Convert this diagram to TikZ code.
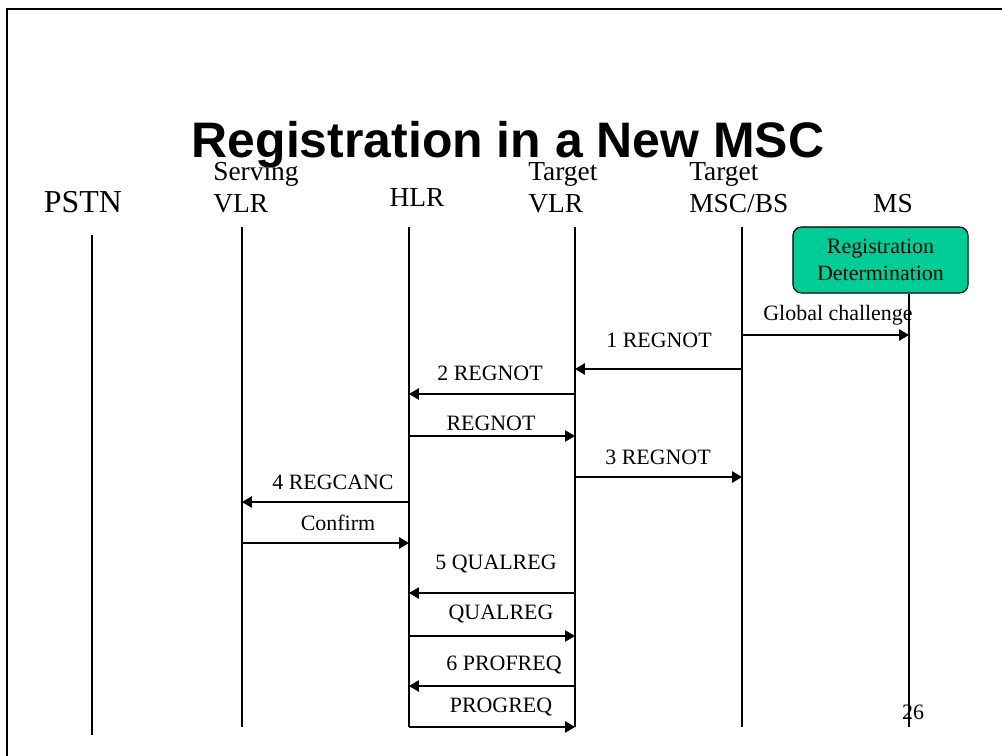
\documentclass[tikz,border=0pt]{standalone}
\usepackage{fontspec}
\setmainfont{Liberation Serif}
\newfontfamily\titlefont{Liberation Sans}
\usepackage{tikz}
\definecolor{regteal}{RGB}{0, 204, 150}
\usetikzlibrary{arrows.meta, calc}

\begin{document}
\begin{tikzpicture}[
    x=0.025cm, y=-0.025cm,
    frame/.style={draw, line width=1.4pt},
    lifeline/.style={line width=1pt},
    msg/.style={-{Triangle[length=7pt, width=8pt]}, line width=1pt},
    lbl/.style={inner sep=0pt, font=\fontsize{15.6}{18}\selectfont},
    head/.style={inner sep=0pt, font=\fontsize{19.5}{22}\selectfont},
    regbox/.style={rectangle, draw, line width=0.8pt, fill=regteal,
                   rounded corners=6pt, minimum width=4.375cm, minimum height=1.65cm,
                   align=center, font=\fontsize{15.6}{19.5}\selectfont}
]
    \useasboundingbox (0,0) rectangle (1002,756);
    \draw[frame] (7,756) -- (7,9) -- (1002,9);

    % title and headers
    \node[anchor=base, inner sep=0pt, font=\titlefont\bfseries\fontsize{35.5}{40}\selectfont]
        (title) at (508,157) {Registration in a New MSC};
    \node[anchor=base, inner sep=0pt, font=\fontsize{22.7}{26}\selectfont] (pstn name) at (83,212) {PSTN};
    \node[head, anchor=base west] (svlr name1) at (213,180) {Serving};
    \node[head, anchor=base west] (svlr name2) at (213,212) {VLR};
    \node[head, anchor=base] (hlr name) at (417,206) {HLR};
    \node[head, anchor=base west] (tvlr name1) at (528,180) {Target};
    \node[head, anchor=base west] (tvlr name2) at (528,212) {VLR};
    \node[head, anchor=base west] (msc name1) at (689,180) {Target};
    \node[head, anchor=base west] (msc name2) at (689,212) {MSC/BS};
    \node[head, anchor=base] (ms name) at (893,212) {MS};

    % lifelines
    \coordinate (pstn) at (92,235);
    \coordinate (svlr) at (242,227);
    \coordinate (hlr) at (409,227);
    \coordinate (tvlr) at (575,227);
    \coordinate (msc) at (742,227);
    \coordinate (ms) at (909,227);
    \coordinate (pstn end) at (92,735);
    \coordinate (svlr end) at (242,727);
    \coordinate (hlr end) at (409,727);
    \coordinate (tvlr end) at (575,727);
    \coordinate (msc end) at (742,727);
    \coordinate (ms end) at (909,727);

    \node[regbox] (regdet) at (880.5,260) {Registration\\Determination};

    \draw[lifeline] (pstn) -- (pstn end);
    \draw[lifeline] (svlr) -- (svlr end);
    \draw[lifeline] (hlr) -- (hlr end);
    \draw[lifeline] (tvlr) -- (tvlr end);
    \draw[lifeline] (msc) -- (msc end);
    \draw[lifeline] (ms |- regdet.south) -- (ms end);

    % messages
    \foreach \from/\to/\y/\lx/\ly/\txt [count=\i] in {
        msc/ms/335/838/315/Global challenge,
        msc/tvlr/369/659/340/1 REGNOT,
        tvlr/hlr/394/490/373/2 REGNOT,
        hlr/tvlr/436/491/423/REGNOT,
        tvlr/msc/477/658/457/3 REGNOT,
        hlr/svlr/502/333/482/4 REGCANC,
        svlr/hlr/543/338/523/Confirm,
        tvlr/hlr/593/496/564/5 QUALREG,
        hlr/tvlr/636/501/614/QUALREG,
        tvlr/hlr/686/504/665/6 PROFREQ,
        hlr/tvlr/727/501/707/PROGREQ}
    {
        \coordinate (m\i a) at (\from |- 0,\y);
        \coordinate (m\i b) at (\to |- 0,\y);
        \draw[msg] (m\i a) -- (m\i b);
        \node[lbl] (m\i label) at (\lx,\ly) {\txt};
    }

    \node[lbl] (page) at (913,712) {26};
\end{tikzpicture}
\end{document}
